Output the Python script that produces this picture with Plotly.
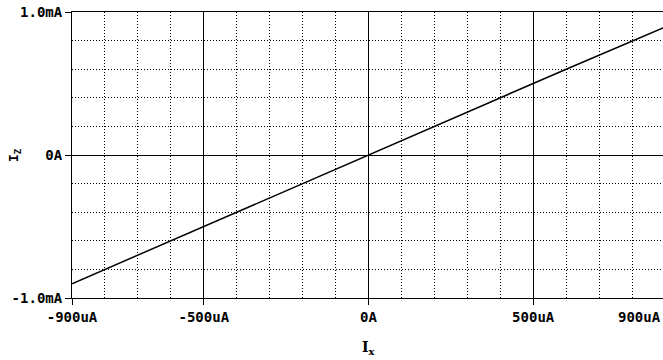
import plotly.graph_objects as go

# Data (Ix in uA, Iz in mA)
ix_uA = [-900, -600, -300, 0, 300, 600, 894]
iz_mA = [-0.90, -0.60, -0.30, 0.0, 0.30, 0.60, 0.888]

x_tickvals = [-900, -500, 0, 500]
x_ticktext = ["-900uA", "-500uA", "0A", "500uA"]
y_tickvals = [-1.0, 0.0, 1.0]
y_ticktext = ["-1.0mA", "0A", "1.0mA"]

FONT = "DejaVu Sans Mono"

fig = go.Figure()
fig.add_trace(go.Scatter(x=ix_uA, y=iz_mA, mode="lines",
                         line=dict(color="black", width=1.5),
                         showlegend=False, hoverinfo="skip"))

fig.update_layout(
    width=663, height=360,
    margin=dict(l=72, r=0, t=12, b=62),
    paper_bgcolor="white", plot_bgcolor="white",
    font=dict(family=FONT, size=14, color="black"),
    xaxis=dict(
        range=[-900, 894], tickvals=x_tickvals, ticktext=x_ticktext,
        ticks="outside", ticklen=6, tickcolor="black", tickwidth=1,
        showline=True, linecolor="black", linewidth=1, mirror=True,
        showgrid=True, gridcolor="black", gridwidth=1,
        minor=dict(dtick=100, tick0=0, showgrid=True, gridcolor="black",
                   griddash="1px,2px", gridwidth=1, ticks=""),
        zeroline=False,
        tickfont=dict(family=FONT, size=14, color="black", weight="bold"),
    ),
    yaxis=dict(
        range=[-1.0, 1.0], tickvals=y_tickvals, ticktext=y_ticktext,
        ticks="outside", ticklen=6, tickcolor="black", tickwidth=1,
        showline=True, linecolor="black", linewidth=1, mirror=False,
        showgrid=True, gridcolor="black", gridwidth=1,
        minor=dict(dtick=0.2, tick0=0, showgrid=True, gridcolor="black",
                   griddash="1px,2px", gridwidth=1, ticks=""),
        zeroline=False,
        tickfont=dict(family=FONT, size=14, color="black", weight="bold"),
    ),
)

# right-end tick label (shifted to fit inside the window, as in original)
fig.add_annotation(text="<b>900uA</b>", xref="paper", yref="paper",
                   x=1.0, y=0, xanchor="right", yanchor="top", yshift=-9,
                   showarrow=False, font=dict(family=FONT, size=14, color="black"))

# axis titles
fig.add_annotation(text="<b>I<sub>x</sub></b>", xref="paper", yref="paper",
                   x=(368 - 72) / 591, y=0, xanchor="center", yanchor="middle", yshift=-50,
                   showarrow=False, font=dict(family="DejaVu Serif", size=14, color="black"))
fig.add_annotation(text="<b>I<sub>Z</sub></b>", xref="paper", yref="paper",
                   x=0, y=0.5, xanchor="center", yanchor="middle", xshift=-58,
                   textangle=-90,
                   showarrow=False, font=dict(family=FONT, size=13, color="black"))

fig.write_html("out.html", config={"displayModeBar": False},
               post_script="document.body.style.margin='0';document.body.style.overflow='hidden';")
